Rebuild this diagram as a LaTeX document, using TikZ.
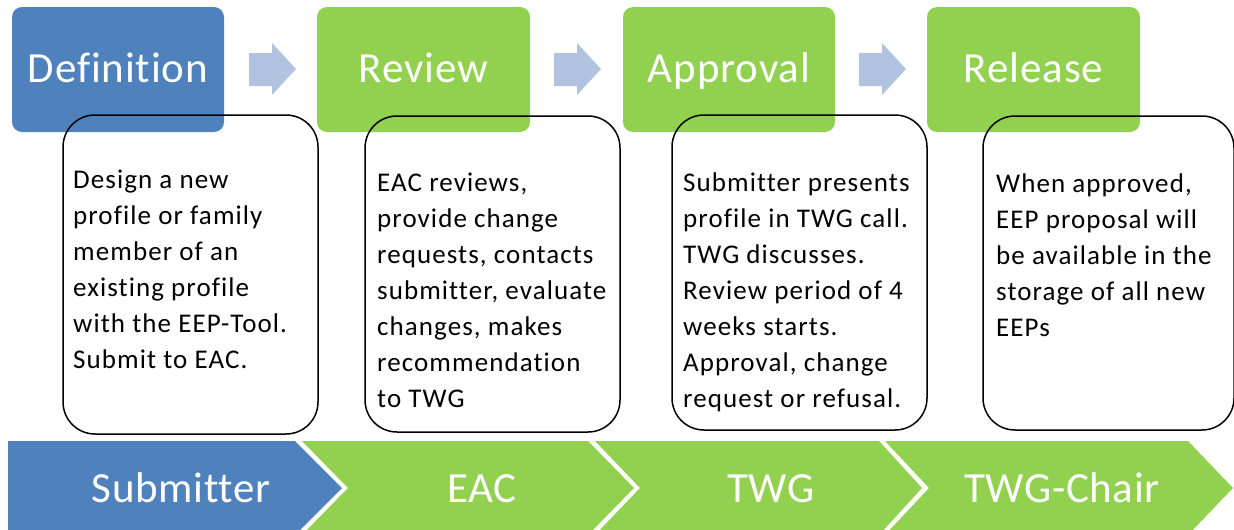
\documentclass[tikz,border=0pt]{standalone}
\usepackage{fontspec}
\setmainfont{Carlito}[Ligatures=NoCommon]
\newfontfamily\boxfont{Carlito}[LetterSpace=4, Ligatures=NoCommon]
\newfontfamily\titlefont{Carlito}[LetterSpace=2, Ligatures=NoCommon]
\newfontfamily\chevfont{Carlito}[LetterSpace=1.5, Ligatures=NoCommon]
\definecolor{cblue}{HTML}{4F81BD}
\definecolor{cgreen}{HTML}{92D050}
\definecolor{carrow}{RGB}{178,195,225}
\tikzset{
  topbox/.style={rounded corners=10pt, minimum width=212pt, minimum height=125pt, inner sep=0pt,
    text=white, font=\titlefont\fontsize{43}{50}\selectfont, text height=25pt, text depth=0pt, anchor=center},
  descbox/.style={draw=black, line width=1.5pt, rounded corners=32pt, inner sep=0pt, fill=none},
  desctext/.style={anchor=base west, align=left, inner sep=0pt, font=\boxfont\fontsize{27}{36}\selectfont},
  chevlabel/.style={anchor=base, text=white, inner sep=0pt, font=\chevfont\fontsize{43}{50}\selectfont},
  blockarrow/.style={fill=carrow, draw=none}
}
\begin{document}
\begin{tikzpicture}[x=1pt,y=-1pt]
\useasboundingbox (0,0) rectangle (1234,530);
\clip (0,0) rectangle (1234,530);
\fill[white] (0,0) rectangle (1234,530);

% top boxes
\node[topbox, fill=cblue, minimum width=212pt] (def) at (118,69.5) {Definition};
\node[topbox, fill=cgreen, minimum width=213pt] (rev) at (423.5,69.5) {Review};
\node[topbox, fill=cgreen, minimum width=212pt] (app) at (729,69.5) {Approval};
\node[topbox, fill=cgreen, minimum width=213pt] (rel) at (1033.5,69.5) {Release};

% block arrows
\foreach \x/\n in {249/a1,554/a2,859/a3}{
  \fill[blockarrow] (\x,53) -- (\x+23,53) -- (\x+23,43) -- (\x+47,69) -- (\x+23,95) -- (\x+23,86) -- (\x,86) -- cycle;
}

% description boxes
\node[descbox, minimum width=255pt, minimum height=319pt] (d1) at (190.5,274.5) {};
\node[descbox, minimum width=255pt, minimum height=316pt] (d2) at (492.5,274) {};
\node[descbox, minimum width=255pt, minimum height=315pt] (d3) at (799.5,272.5) {};
\node[descbox, minimum width=251pt, minimum height=314pt] (d4) at (1108.5,273) {};

% anchors are the baseline of the last line (first baseline + (n-1)*36)
\node[desctext] (t1) at (73,368) {Design a new\\profile or family\\member of an\\existing profile\\with the EEP-Tool.\\Submit to EAC.};
\node[desctext] (t2) at (377,407) {EAC reviews,\\provide change\\requests, contacts\\submitter, evaluate\\changes, makes\\recommendation\\to TWG};
\node[desctext] (t3) at (683,407) {Submitter presents\\profile in TWG call.\\TWG discusses.\\Review period of 4\\weeks starts.\\Approval, change\\request or refusal.};
\node[desctext] (t4) at (996,336) {When approved,\\EEP proposal will\\be available in the\\storage of all new\\EEPs};

% chevrons
\fill[cblue] (8,441) -- (295,441) -- (342,488) -- (295,535) -- (8,535) -- cycle;
\fill[cgreen] (302,441) -- (588,441) -- (634,488) -- (588,535) -- (302,535) -- (348,488) -- cycle;
\fill[cgreen] (595,441) -- (879,441) -- (922,488) -- (879,535) -- (595,535) -- (640,488) -- cycle;
\fill[cgreen] (885,441) -- (1188,441) -- (1233,488) -- (1188,535) -- (885,535) -- (929,488) -- cycle;

\node[chevlabel] (c1) at (181,502) {Submitter};
\node[chevlabel] (c2) at (482,502) {EAC};
\node[chevlabel] (c3) at (771,502) {TWG};
\node[chevlabel] (c4) at (1062,502) {TWG-Chair};
\end{tikzpicture}
\end{document}
